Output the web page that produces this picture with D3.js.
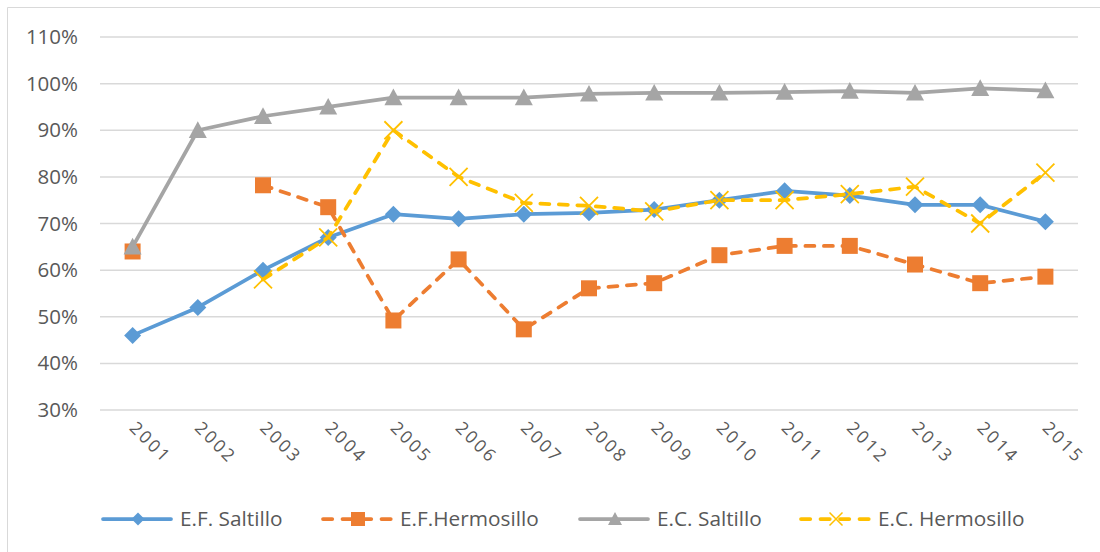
<!DOCTYPE html>
<html>
<head>
<meta charset="utf-8">
<script src="https://cdn.jsdelivr.net/npm/d3@7"></script>
<style>
html,body{margin:0;padding:0;background:#fff;}
svg{display:block;}
text{font-family:"Open Sans","Liberation Sans",sans-serif;fill:#595959;}
</style>
</head>
<body>
<svg id="chart" width="1100" height="552"></svg>
<script>
const years = ["2001","2002","2003","2004","2005","2006","2007","2008","2009","2010","2011","2012","2013","2014","2015"];
const efSaltillo = [46, 52, 60, 67, 72, 71, 72, 72.3, 73, 75, 77, 76, 74, 74, 70.4];
const efHermosillo = [64, null, 78.2, 73.5, 49.2, 62.3, 47.3, 56.1, 57.2, 63.2, 65.2, 65.2, 61.2, 57.2, 58.6];
const ecSaltillo = [65, 90, 93, 95, 97, 97, 97, 97.8, 98, 98, 98.2, 98.4, 98, 99, 98.5];
const ecHermosillo = [null, null, 58, 67, 90, 80, 74.4, 73.8, 72.6, 75, 75, 76.3, 77.9, 70, 80.9];
const yTicks = [30, 40, 50, 60, 70, 80, 90, 100, 110];
const seriesNames = ["E.F. Saltillo", "E.F.Hermosillo", "E.C. Saltillo", "E.C. Hermosillo"];
const seriesColors = ["#5B9BD5", "#ED7D31", "#A5A5A5", "#FFC000"];
const seriesMarkers = ["diamond", "square", "triangle", "x"];
const seriesDashed = [false, true, false, true];
const seriesValues = [efSaltillo, efHermosillo, ecSaltillo, ecHermosillo];

const svg = d3.select("#chart");
svg.append("path").attr("d", "M7.5,552 V7.5 H1100").attr("fill", "none").attr("stroke", "#d9d9d9").attr("stroke-width", 1);

const plot = {left: 100, right: 1078, top: 37, bottom: 410};
const x = d3.scaleBand().domain(years).range([plot.left, plot.right]);
const y = d3.scaleLinear().domain([30, 110]).range([plot.bottom, plot.top]);
const font = '"Open Sans","Liberation Sans",sans-serif';

svg.append("g").selectAll("line").data(yTicks).join("line")
  .attr("x1", plot.left).attr("x2", plot.right)
  .attr("y1", d => y(d)).attr("y2", d => y(d))
  .attr("stroke", "#d9d9d9").attr("stroke-width", 1.5);

const yAxis = d3.axisLeft(y).tickValues(yTicks).tickFormat(d => d + "%").tickSize(0).tickPadding(0);
const gy = svg.append("g").attr("transform", `translate(78,0)`).call(yAxis);
gy.select(".domain").remove();
gy.selectAll("text").attr("font-size", 20.5).attr("fill", "#595959").style("font-family", font);

const xAxis = d3.axisBottom(x).tickSize(0).tickPadding(0);
const gx = svg.append("g").attr("transform", `translate(0,${plot.bottom})`).call(xAxis);
gx.select(".domain").remove();
gx.selectAll(".tick text")
  .attr("font-size", 17.5).attr("fill", "#595959")
  .style("font-family", font)
  .attr("text-anchor", "start")
  .attr("dy", null).attr("y", 0).attr("x", 0)
  .attr("transform", "translate(-4,19) rotate(45)")
  .style("letter-spacing", "2.5px");

function markerPath(type, size) {
  const s = size / 2;
  if (type === "diamond") return `M0,${-s}L${s},0L0,${s}L${-s},0Z`;
  if (type === "square") return `M${-s},${-s}H${s}V${s}H${-s}Z`;
  if (type === "triangle") return `M0,${-s}L${s},${s * 0.85}L${-s},${s * 0.85}Z`;
  return `M${-s},${-s}L${s},${s}M${s},${-s}L${-s},${s}`;
}
const markerSize = {diamond: 17, square: 16, triangle: 18, x: 18};
const legendMarkerSize = {diamond: 13, square: 14, triangle: 14, x: 13};

const line = d3.line().defined(d => d.v !== null).x(d => x(d.year) + x.bandwidth() / 2).y(d => y(d.v));

seriesValues.forEach((vals, i) => {
  const data = years.map((yr, j) => ({year: yr, v: vals[j]}));
  const g = svg.append("g");
  g.append("path").datum(data).attr("d", line).attr("fill", "none")
    .attr("stroke", seriesColors[i]).attr("stroke-width", 3.75)
    .attr("stroke-linejoin", "round").attr("stroke-linecap", "round")
    .attr("stroke-dasharray", seriesDashed[i] ? "9,9.5" : null);
  const pts = data.filter(d => d.v !== null);
  const m = seriesMarkers[i];
  g.selectAll("path.mk").data(pts).join("path").attr("class", "mk")
    .attr("transform", d => `translate(${x(d.year) + x.bandwidth() / 2},${y(d.v)})`)
    .attr("d", markerPath(m, markerSize[m]))
    .attr("fill", m === "x" ? "none" : seriesColors[i])
    .attr("stroke", seriesColors[i]).attr("stroke-width", m === "x" ? 1.8 : 0);
});

const legendX = [103, 323, 580, 801];
const ly = 519;
seriesNames.forEach((name, i) => {
  const g = svg.append("g").attr("transform", `translate(${legendX[i]},${ly})`);
  g.append("line").attr("x1", 0).attr("x2", 68).attr("y1", 0).attr("y2", 0)
    .attr("stroke", seriesColors[i]).attr("stroke-width", 3.75).attr("stroke-linecap", "round")
    .attr("stroke-dasharray", seriesDashed[i] ? "9.25,10.25" : null);
  const m = seriesMarkers[i];
  g.append("path").attr("transform", "translate(35,0)").attr("d", markerPath(m, legendMarkerSize[m]))
    .attr("fill", m === "x" ? "none" : seriesColors[i])
    .attr("stroke", seriesColors[i]).attr("stroke-width", m === "x" ? 1.5 : 0);
  g.append("text").attr("x", 77).attr("y", 0).attr("dy", "0.35em")
    .attr("font-size", 20.8).text(name);
});
</script>
</body>
</html>
